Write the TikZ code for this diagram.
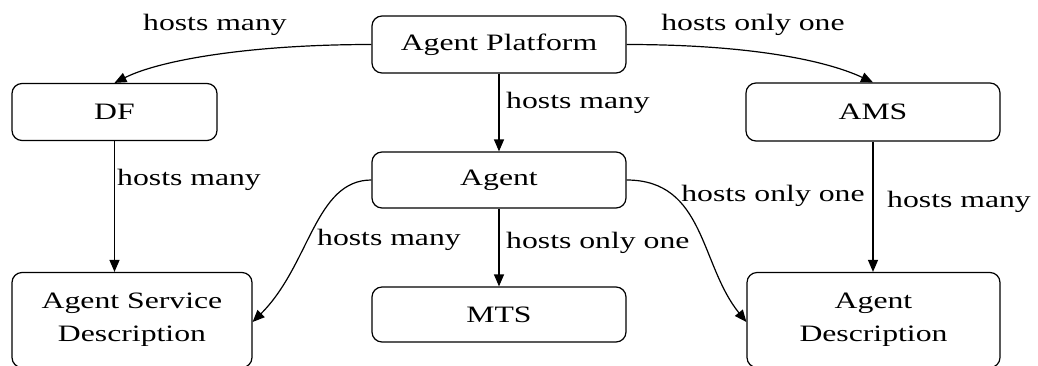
\documentclass[tikz,border=0pt]{standalone}
\usepackage{fontspec}
\setmainfont{Liberation Serif}[FakeStretch=1.35]
\usetikzlibrary{arrows.meta}
\begin{document}
\begin{tikzpicture}[x=1pt,y=-1pt,
  box/.style={draw, line width=1.2pt, rounded corners=10pt, inner sep=0pt, align=center,
    font=\fontsize{23.5}{33}\selectfont},
  lbl/.style={inner sep=0pt, font=\fontsize{23.5}{28}\selectfont},
  conn/.style={line width=1.2pt, -{Triangle[length=12pt,width=10pt]}}]
\useasboundingbox (0,0) rectangle (1038,365);
\node[box, minimum width=254pt, minimum height=57pt] (ap) at (499,44.5) {Agent Platform};
\node[box, minimum width=205pt, minimum height=57pt] (df) at (114.5,112) {DF};
\node[box, minimum width=254pt, minimum height=58pt] (ams) at (873,112) {AMS};
\node[box, minimum width=254pt, minimum height=56pt] (agent) at (499,180) {Agent};
\node[box, minimum width=254pt, minimum height=55pt] (mts) at (499,314.5) {MTS};
\node[box, minimum width=240pt, minimum height=95pt] (asd) at (132,320) {Agent Service\\Description};
\node[box, minimum width=253pt, minimum height=95pt] (ad) at (873.5,320) {Agent\\Description};

\draw[conn] (ap.west) .. controls (250,44.5) and (160,60) .. (df.north);
\draw[conn] (ap.east) .. controls (748,44.5) and (825,60) .. (ams.north);
\draw[conn] (ap.south) -- (agent.north);
\draw[conn] (df.south) -- (df.south |- asd.north);
\draw[conn] (ams.south) -- (ams.south |- ad.north);
\draw[conn] (agent.south) -- (mts.north);
\draw[conn] (agent.west) .. controls (315,180) and (310,265) .. ([yshift=-2pt]asd.east);
\draw[conn] (agent.east) .. controls (705,180) and (700,265) .. ([yshift=-2pt]ad.west);

\node[lbl] (l1) at (215,25) {hosts many};
\node[lbl] (l2) at (753,25) {hosts only one};
\node[lbl, anchor=west] (l3) at (506,103) {hosts many};
\node[lbl, anchor=west] (l4) at (117,180) {hosts many};
\node[lbl] (l5) at (389,240) {hosts many};
\node[lbl, anchor=west] (l6) at (506,243) {hosts only one};
\node[lbl] (l7) at (773,196) {hosts only one};
\node[lbl, anchor=west] (l8) at (887,202) {hosts many};
\end{tikzpicture}
\end{document}
